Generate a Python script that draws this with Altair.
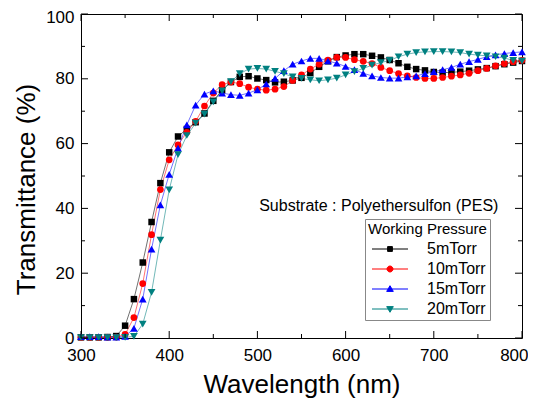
import altair as alt
import pandas as pd

# ---------------- data ----------------
wavelength = list(range(300, 801, 10))
t_5 = [0.2, 0.2, 0.2, 0.3, 0.6, 3.8, 12.0, 23.3, 35.8, 47.8,
       57.3, 62.2, 64.5, 66.6, 69.3, 73.2, 76.5, 79.0, 80.6, 80.8,
       80.1, 79.6, 78.9, 79.1, 79.5, 80.3, 81.8, 83.7, 85.4, 86.7,
       87.2, 87.6, 87.6, 87.1, 86.6, 85.8, 84.8, 83.7, 83.0, 82.6,
       82.1, 81.9, 82.0, 82.2, 82.5, 82.9, 83.3, 83.9, 84.5, 85.0,
       85.5]
t_10 = [0.2, 0.2, 0.2, 0.2, 0.3, 1.1, 6.3, 16.8, 31.9, 45.8,
        55.0, 59.6, 63.5, 66.9, 71.6, 75.6, 78.2, 79.0, 78.5, 77.4,
        76.8, 76.5, 76.8, 77.6, 79.5, 81.2, 83.0, 84.5, 85.8, 86.6,
        86.6, 85.9, 85.4, 84.7, 83.5, 82.5, 81.6, 80.9, 80.4, 80.1,
        80.1, 80.4, 80.8, 81.2, 81.7, 82.5, 83.2, 84.0, 84.7, 85.3,
        85.7]
t_15 = [0.4, 0.4, 0.4, 0.3, 0.3, 0.5, 3.0, 12.0, 27.4, 41.1,
        50.5, 58.6, 65.8, 71.9, 75.3, 76.3, 75.6, 75.1, 74.9, 75.6,
        76.6, 78.4, 80.1, 82.5, 84.5, 85.5, 86.3, 86.3, 85.5, 84.8,
        83.8, 82.8, 81.7, 80.9, 80.4, 80.2, 80.2, 80.6, 80.9, 81.6,
        82.2, 82.8, 83.5, 84.5, 85.3, 86.0, 86.8, 87.4, 87.8, 88.1,
        88.3]
t_20 = [0.1, 0.1, 0.1, 0.1, 0.1, 0.2, 0.5, 4.3, 14.1, 30.2,
        45.7, 56.6, 62.5, 66.3, 69.1, 72.9, 76.3, 79.1, 81.6, 83.0,
        83.2, 83.0, 82.3, 81.6, 80.6, 80.1, 79.7, 79.4, 79.7, 80.2,
        81.2, 82.2, 83.2, 84.2, 85.0, 85.7, 86.8, 87.6, 88.1, 88.3,
        88.4, 88.4, 88.3, 88.1, 87.6, 87.3, 87.1, 86.8, 86.4, 85.7,
        85.5]

series_names = ["5mTorr", "10mTorr", "15mTorr", "20mTorr"]
series_values = [t_5, t_10, t_15, t_20]
series_colors = ["#000000", "#FF0000", "#0000FF", "#008080"]
marker_shapes = ["square", "circle", "triangle-up", "triangle-down"]
marker_sizes = [42, 45, 60, 60]
legend_shapes = [
    "M-6,0H6M-0.8,-0.8H0.8V0.8H-0.8Z",
    "M-6,0H6M-1,0A1,1,0,1,0,1,0A1,1,0,1,0,-1,0Z",
    "M-6,0H6M0,-1.1L1.1,0.8H-1.1Z",
    "M-6,0H6M0,1.1L1.1,-0.8H-1.1Z",
]

x_major = [300, 400, 500, 600, 700, 800]
x_minor = [350, 450, 550, 650, 750]
y_major = [0, 20, 40, 60, 80, 100]
y_minor = [10, 30, 50, 70, 90]

annot_text = ["Substrate : Polyethersulfon (PES)"]
annot_x = [502]
annot_y = [40.6]

# ---------------- build ----------------
rows = []
for name, vals in zip(series_names, series_values):
    for w, t in zip(wavelength, vals):
        rows.append({"wl": w, "T": t, "series": name})
df = pd.DataFrame(rows)

W, H = 441, 324
FONT = "Liberation Sans"

x_scale = alt.Scale(domain=[300, 800], nice=False, zero=False, padding=0)
y_scale = alt.Scale(domain=[0, 100], nice=False, zero=False, padding=0)
x_axis = alt.Axis(title="Wavelength (nm)", values=x_major, grid=False, ticks=False,
                  domain=False, labelFontSize=17, labelPadding=9, titleFontSize=26,
                  titlePadding=8, labelFont=FONT, titleFont=FONT, labelFlush=False,
                  labelAlign={"condition": {"test": "datum.value >= 800", "value": "right"},
                              "value": "center"},
                  labelOffset={"condition": {"test": "datum.value >= 800", "value": 6},
                               "value": 0},
                  titleFontWeight="normal", labelColor="black", titleColor="black",
                  format="d")
y_axis = alt.Axis(title="Transmittance (%)", values=y_major, grid=False, ticks=False,
                  domain=False, labelFontSize=17, labelPadding=7, titleFontSize=26,
                  titlePadding=6, labelFont=FONT, titleFont=FONT, labelFlush=False,
                  labelOffset={"condition": {"test": "datum.value >= 100", "value": 3},
                               "value": 0},
                  titleFontWeight="normal", labelColor="black", titleColor="black",
                  titleY=175, format="d")

X = alt.X("wl:Q", scale=x_scale, axis=x_axis)
Y = alt.Y("T:Q", scale=y_scale, axis=y_axis)
color_scale = alt.Scale(domain=series_names, range=series_colors)

lines = alt.Chart(df).mark_line(strokeWidth=0.8, opacity=0.7).encode(
    x=X, y=Y,
    color=alt.Color("series:N", scale=color_scale, legend=None),
)

point_layers = []
for name, shp, sz in zip(series_names, marker_shapes, marker_sizes):
    point_layers.append(
        alt.Chart(df).transform_filter(alt.datum.series == name)
        .mark_point(filled=True, shape=shp, size=sz, opacity=1)
        .encode(x=X, y=Y, color=alt.Color("series:N", scale=color_scale, legend=None))
    )

legend = alt.Legend(
    title="Working Pressure", orient="none", legendX=284, legendY=205,
    padding=3, strokeColor="#888888", fillColor="white",
    titleFontSize=15, titleFont=FONT, titleFontWeight="normal", titleColor="black",
    titlePadding=4, labelFontSize=16, labelFont=FONT, labelColor="black",
    rowPadding=4, symbolSize=36, symbolStrokeWidth=1, symbolOpacity=1,
    symbolOffset=14, labelOffset=29,
    labelExpr="datum.label == '5mTorr' ? '\u2007' + datum.label : datum.label",
)

legend_layer = alt.Chart(df).mark_point(filled=True, opacity=0, size=36).encode(
    x=X, y=Y,
    shape=alt.Shape("series:N", scale=alt.Scale(domain=series_names, range=legend_shapes), legend=legend),
    fill=alt.Fill("series:N", scale=color_scale, legend=legend),
    stroke=alt.Stroke("series:N", scale=color_scale, legend=legend),
)

tick_layers = []
for vals, ln in [(x_major, 7), (x_minor, 4)]:
    tdf = pd.DataFrame({"wl": vals})
    tick_layers.append(alt.Chart(tdf).mark_rule(color="black", strokeWidth=1).encode(
        x=X, y=alt.value(H), y2=alt.value(H - ln)))
    tick_layers.append(alt.Chart(tdf).mark_rule(color="black", strokeWidth=1).encode(
        x=X, y=alt.value(0), y2=alt.value(ln)))
for vals, ln in [(y_major, 7), (y_minor, 4)]:
    tdf = pd.DataFrame({"T": vals})
    tick_layers.append(alt.Chart(tdf).mark_rule(color="black", strokeWidth=1).encode(
        y=Y, x=alt.value(0), x2=alt.value(ln)))
    tick_layers.append(alt.Chart(tdf).mark_rule(color="black", strokeWidth=1).encode(
        y=Y, x=alt.value(W), x2=alt.value(W - ln)))

adf = pd.DataFrame({"wl": annot_x, "T": annot_y, "label": annot_text})
annot = alt.Chart(adf).mark_text(align="left", baseline="middle", fontSize=16,
                                 font=FONT, color="black").encode(
    x=X, y=Y, text="label:N")

chart = alt.layer(lines, *point_layers, *tick_layers, annot, legend_layer).resolve_scale(
    shape="independent", fill="independent", stroke="independent"
).properties(
    width=W, height=H,
    autosize=alt.AutoSizeParams(type="none"),
    padding={"left": 73, "top": 6, "right": 6, "bottom": 61},
).configure_view(stroke="black", strokeWidth=1)

chart.save("out.html", embed_options={"renderer": "svg", "actions": False})
